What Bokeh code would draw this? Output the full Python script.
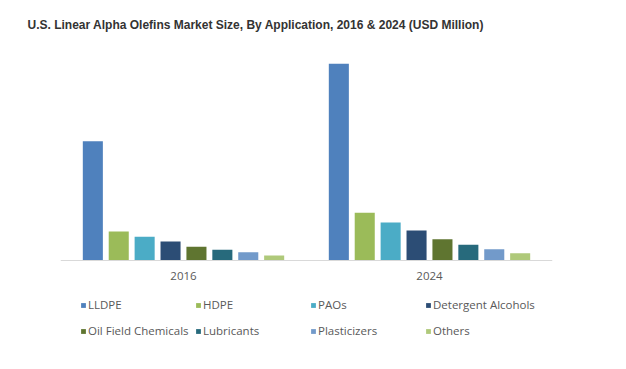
from bokeh.plotting import figure
from bokeh.models import ColumnDataSource, FactorRange, Legend, LegendItem, Range1d
from bokeh.transform import dodge
from bokeh.embed import file_html
from bokeh.resources import INLINE

years = ["2016", "2024"]
applications = ["LLDPE", "HDPE", "PAOs", "Detergent Alcohols",
                "Oil Field Chemicals", "Lubricants", "Plasticizers", "Others"]
lldpe = [119.3, 196.7]
hdpe = [29.0, 47.7]
paos = [23.7, 38.0]
detergent_alcohols = [19.0, 30.0]
oil_field_chemicals = [13.7, 21.3]
lubricants = [10.7, 15.7]
plasticizers = [8.3, 11.3]
others = [5.0, 7.3]

series = [lldpe, hdpe, paos, detergent_alcohols, oil_field_chemicals,
          lubricants, plasticizers, others]
colors = ["#4F81BD", "#9BBB59", "#4BACC6", "#2C4D75",
          "#5F7530", "#276A7C", "#729ACA", "#AFC97A"]
keys = ["s%d" % i for i in range(len(series))]

data = {"year": years}
for k, s in zip(keys, series):
    data[k] = s
source = ColumnDataSource(data)

# the frame extends below the baseline so that the legend can sit inside it
p = figure(x_range=FactorRange(factors=years, range_padding=0),
           y_range=Range1d(-81, 210),
           frame_width=492, frame_height=291,
           output_backend="svg", toolbar_location=None,
           min_border_left=60, min_border_right=58, min_border_top=50,
           min_border_bottom=0)

p.title.text = "U.S. Linear Alpha Olefins Market Size, By Application, 2016 & 2024 (USD Million)"
p.title.text_font = "Liberation Sans"
p.title.text_font_style = "bold"
p.title.text_font_size = "12px"
p.title.text_color = "#333333"
p.title.align = "left"
p.title.vertical_align = "top"
p.title.offset = -33
p.title.standoff = 33

pitch = 0.1053
bw = 0.0815
items = []
for i, (k, c, name) in enumerate(zip(keys, colors, applications)):
    r = p.vbar(x=dodge("year", (i - 3.5) * pitch, range=p.x_range), top=k,
               width=bw, source=source, fill_color=c, line_color=None)
    items.append(LegendItem(label=name, renderers=[r]))

p.yaxis.visible = False
p.xgrid.visible = False
p.ygrid.visible = False
p.outline_line_color = None
p.xaxis.fixed_location = 0
p.xaxis.axis_line_color = "#D9D9D9"
p.xaxis.major_tick_line_color = None
p.xaxis.minor_tick_line_color = None
p.xaxis.major_label_text_font = "Open Sans"
p.xaxis.major_label_text_font_size = "11.5px"
p.xaxis.major_label_text_color = "#595959"
p.xaxis.major_label_standoff = 5

legend = Legend(items=items, orientation="horizontal", nrows=2, location=(20, 0),
                glyph_width=6, glyph_height=6, label_standoff=2,
                label_text_font="Open Sans", label_text_font_size="11.5px",
                label_text_color="#595959", label_height=21, label_width=102,
                spacing=5, border_line_color=None, background_fill_alpha=0,
                margin=0, padding=0)
p.add_layout(legend, "center")

open("out.html", "w").write(file_html(p, INLINE))
